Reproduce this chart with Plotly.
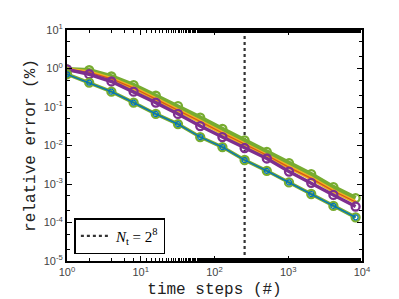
import plotly.graph_objects as go

steps = [1, 2, 4, 8, 16, 32, 64, 128, 256, 512, 1024, 2048, 4096, 8192]
err_upper = [0.95, 0.9, 0.62, 0.37, 0.196, 0.105, 0.053, 0.027, 0.0136, 0.0068, 0.0035, 0.0018, 8.3e-4, 4.3e-4]
err_mid = [0.95, 0.8, 0.54, 0.31, 0.16, 0.084, 0.042, 0.021, 0.0108, 0.0056, 0.0027, 0.0014, 6.6e-4, 3.4e-4]
err_purple = [0.95, 0.71, 0.46, 0.25, 0.13, 0.066, 0.032, 0.0166, 0.0086, 0.0046, 0.0021, 0.00107, 5.2e-4, 2.6e-4]
err_lower = [0.71, 0.43, 0.25, 0.13, 0.066, 0.036, 0.0166, 0.0091, 0.0042, 0.0022, 0.0011, 5.5e-4, 2.7e-4, 1.36e-4]
nt_line = 256
y_range_vals = [1e-5, 1e1]
xtick_vals = [1, 10, 100, 1000, 10000]
xtick_text = ["10<sup>0</sup>", "10<sup>1</sup>", "10<sup>2</sup>", "10<sup>3</sup>", "10<sup>4</sup>"]
ytick_vals = [1e-5, 1e-4, 1e-3, 1e-2, 1e-1, 1, 10]
ytick_text = ["10<sup>-5</sup>", "10<sup>-4</sup>", "10<sup>-3</sup>", "10<sup>-2</sup>", "10<sup>-1</sup>", "10<sup>0</sup>", "10<sup>1</sup>"]

GREEN = "#77AC30"
YELLOW = "#EDB120"
ORANGE = "#D95319"
PURPLE = "#7E2F8E"
BLUE = "#0072BD"

fig = go.Figure()

fig.add_trace(go.Scatter(x=[nt_line, nt_line], y=y_range_vals, mode="lines",
                         line=dict(color="#333333", width=2.2, dash="dot"),
                         name="<i>N</i><sub>t</sub> = 2<sup>8</sup>", showlegend=True))

fig.add_trace(go.Scatter(x=steps, y=err_upper, mode="lines+markers",
                         line=dict(color=GREEN, width=4.5),
                         marker=dict(symbol="circle-open", size=8, color=GREEN, line=dict(width=2.3)),
                         showlegend=False))
fig.add_trace(go.Scatter(x=steps, y=err_mid, mode="lines",
                         line=dict(color=YELLOW, width=4), showlegend=False))
fig.add_trace(go.Scatter(x=steps, y=err_mid, mode="lines",
                         line=dict(color=ORANGE, width=1.2), showlegend=False))
fig.add_trace(go.Scatter(x=steps, y=err_purple, mode="lines+markers",
                         line=dict(color=PURPLE, width=3.5),
                         marker=dict(symbol="circle-open", size=8, color=PURPLE, line=dict(width=2.3)),
                         showlegend=False))
fig.add_trace(go.Scatter(x=steps, y=err_lower, mode="lines+markers",
                         line=dict(color=GREEN, width=3.5),
                         marker=dict(symbol="circle-open", size=8, color=GREEN, line=dict(width=2.3)),
                         showlegend=False))
fig.add_trace(go.Scatter(x=steps, y=err_lower, mode="lines+markers",
                         line=dict(color=BLUE, width=1.3),
                         marker=dict(symbol="circle-open", size=5, color=BLUE, line=dict(width=1.2)),
                         showlegend=False))

axis_common = dict(
    showline=True, linecolor="black", linewidth=2, mirror="allticks",
    ticks="inside", ticklen=5, tickcolor="black", tickwidth=1.2,
    showgrid=False, zeroline=False,
    tickfont=dict(family="Liberation Sans, Arial", size=11, color="#444444"),
    minor=dict(ticks="inside", ticklen=3, tickcolor="black", tickwidth=1, showgrid=False),
)

fig.update_xaxes(type="log", range=[0, 4], tickvals=xtick_vals, ticktext=xtick_text,
                 title=dict(text="time steps (#)", standoff=6,
                            font=dict(family="Liberation Mono, DejaVu Sans Mono", size=16, color="#222222")),
                 **axis_common)
fig.update_yaxes(type="log", range=[-5, 1], tickvals=ytick_vals, ticktext=ytick_text,
                 title=dict(text="relative error (%)", standoff=4,
                            font=dict(family="Liberation Mono, DejaVu Sans Mono", size=16, color="#222222")),
                 **axis_common)

fig.update_layout(
    width=399, height=299,
    margin=dict(l=59, r=45, t=22, b=44),
    paper_bgcolor="white", plot_bgcolor="white",
    legend=dict(x=0.025, y=0.03, xanchor="left", yanchor="bottom",
                bgcolor="white", bordercolor="black", borderwidth=1.5,
                font=dict(family="Liberation Serif, DejaVu Serif", size=15, color="black"),
                itemwidth=30, tracegroupgap=0),
)

fig.write_html("out.html")
